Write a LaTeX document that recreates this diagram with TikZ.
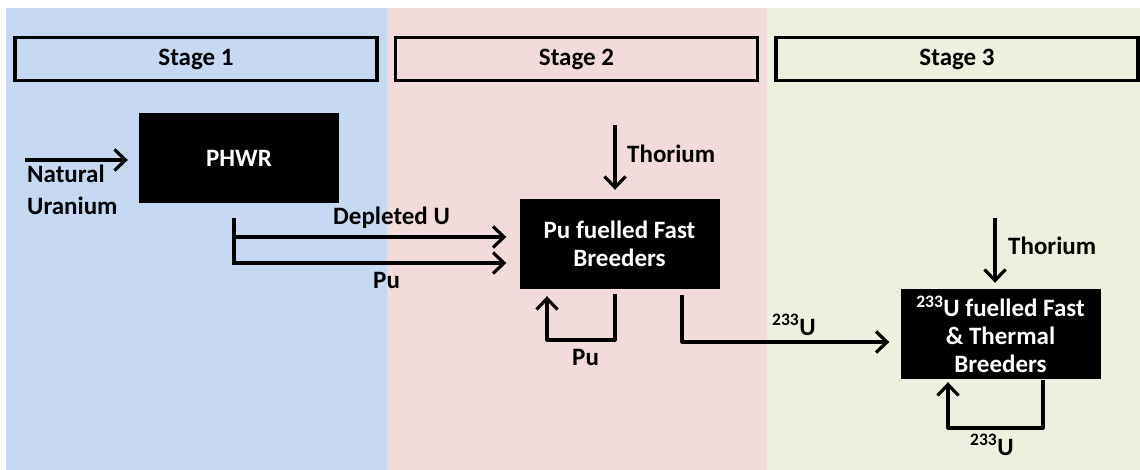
\documentclass[tikz,border=0pt]{standalone}
\usepackage{fontspec}
\setmainfont{Carlito}
\usetikzlibrary{arrows.meta}
\definecolor{pblue}{HTML}{C6D9F1}
\definecolor{ppink}{HTML}{F2DCDB}
\definecolor{pgreen}{HTML}{EBF1DE}
\begin{document}
\begin{tikzpicture}[x=1pt,y=-1pt,
  font=\fontsize{25}{30}\selectfont\bfseries,
  stagebox/.style={draw=black,line width=3.5pt,minimum width=362pt,minimum height=43pt,inner sep=0pt},
  reactor/.style={fill=black,text=white,minimum width=200pt,minimum height=90pt,align=center,inner sep=0pt},
  lbl/.style={inner sep=0pt,anchor=base west},
  line/.style={line width=3.2pt,line join=round},
  arr/.style={line width=3.2pt,line join=round,-{Straight Barb[length=11pt,width=21pt]}}]
\useasboundingbox (0,0) rectangle (1140,470);
\fill[white] (0,0) rectangle (1140,470);
\fill[pblue] (6,8) rectangle (387,470);
\fill[ppink] (387,8) rectangle (767,470);
\fill[pgreen] (767,8) rectangle (1140,470);
% stage headers
\node[stagebox] (s1) at (196,59) {Stage 1};
\node[stagebox] (s2) at (576.5,59) {Stage 2};
\node[stagebox] (s3) at (957,59) {Stage 3};
% reactors
\node[reactor] (phwr) at (239,158) {PHWR};
\node[reactor] (pufb) at (619.5,244) {Pu fuelled Fast\\[-2pt]Breeders};
\node[reactor] (ufb) at (1000.5,334) {\textsuperscript{233}U fuelled Fast\\[-2pt]\& Thermal\\[-2pt]Breeders};
% natural uranium
\coordinate (nu) at (25,160);
\draw[arr,shorten >=11pt] (nu) -- (nu -| phwr.west);
\node[lbl] (natl) at (27,183) {Natural};
\node[lbl] (uran) at (27,215) {Uranium};
% depleted U and Pu to stage 2
\coordinate (j1) at (234,218);
\coordinate (j2) at (234,265);
\coordinate (d0) at (234,237);
\coordinate (p0) at (234,263);
\draw[line] (j1) -- (j2);
\draw[arr,shorten >=13pt] (d0) -- (d0 -| pufb.west);
\draw[arr,shorten >=13pt] (p0) -- (p0 -| pufb.west);
\node[lbl] (dep) at (333,225) {Depleted U};
\node[lbl] (pu1) at (373,288) {Pu};
% thorium to stage 2
\coordinate (th1) at (615,125);
\draw[arr,shorten >=9pt] (th1) -- (th1 |- pufb.north);
\node[lbl] (thl1) at (627,163) {Thorium};
% Pu recycle loop
\coordinate (l1a) at (615,294);
\coordinate (l1b) at (547,340);
\draw[arr,shorten >=7pt] (l1a) |- (l1b) -- (l1b |- pufb.south);
\node[lbl] (pu2) at (572,365) {Pu};
% 233U to stage 3
\coordinate (u1a) at (682,295);
\coordinate (u1b) at (682,342);
\draw[arr,shorten >=11pt] (u1a) -- (u1b) -- (u1b -| ufb.west);
\node[lbl] (u233a) at (772,335) {\textsuperscript{233}U};
% thorium to stage 3
\coordinate (th2) at (995,218);
\draw[arr,shorten >=6pt] (th2) -- (th2 |- ufb.north);
\node[lbl] (thl2) at (1008,255) {Thorium};
% 233U recycle loop
\coordinate (l2a) at (1043,380);
\coordinate (l2b) at (948,428);
\draw[arr,shorten >=3pt] (l2a) |- (l2b) -- (l2b |- ufb.south);
\node[lbl] (u233b) at (970,455) {\textsuperscript{233}U};
\end{tikzpicture}
\end{document}
